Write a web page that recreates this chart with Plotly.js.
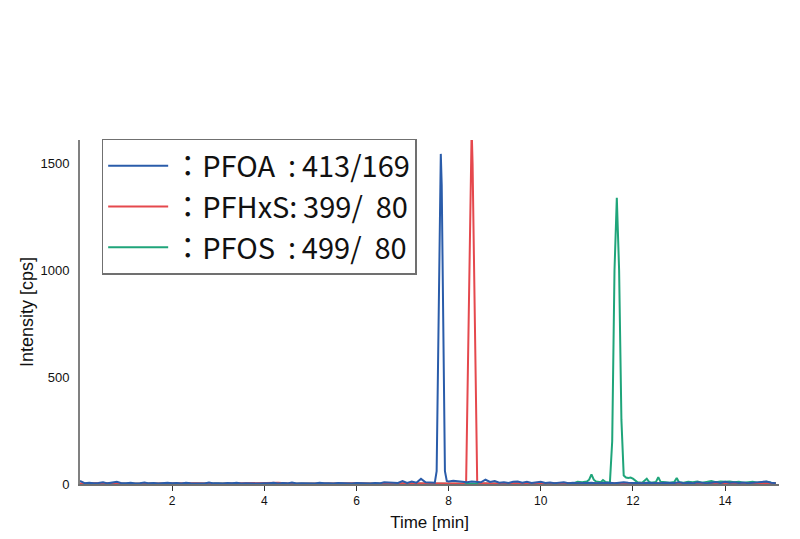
<!DOCTYPE html>
<html>
<head>
<meta charset="utf-8">
<script src="https://cdn.plot.ly/plotly-3.0.1.min.js"></script>
<style>html,body{margin:0;padding:0;background:#fff;}#chart{width:800px;height:539px;}</style>
</head>
<body>
<div id="chart"></div>
<script>
// ---- data ----
var seriesNames = ["\uff1aPFOA\u00a0\u00a0:\u2009413/169", "\uff1aPFHxS:\u2009399/\u00a0\u00a080", "\uff1aPFOS\u00a0\u00a0:\u2009499/\u00a0\u00a080"];
var seriesColors = ["#2a5caa", "#e5484d", "#1fa57a"];

var pfoaTime = [0,0.1,0.2,0.3,0.4,0.5,0.6,0.7,0.8,0.9,1.0,1.1,1.2,1.3,1.4,1.5,1.6,1.7,1.8,1.9,2.0,2.1,2.2,2.3,2.4,2.5,2.6,2.7,2.8,2.9,3.0,3.1,3.2,3.3,3.4,3.5,3.6,3.7,3.8,3.9,4.0,4.1,4.2,4.3,4.4,4.5,4.6,4.7,4.8,4.9,5.0,5.1,5.2,5.3,5.4,5.5,5.6,5.7,5.8,5.9,6.0,6.1,6.2,6.3,6.4,6.5,6.6,6.7,6.8,6.9,7.0,7.1,7.2,7.3,7.4,7.5,7.6,7.7,7.74,7.78,7.81,7.83,7.85,7.88,7.92,7.96,8.0,8.1,8.2,8.3,8.4,8.5,8.6,8.7,8.8,8.9,9.0,9.1,9.2,9.3,9.4,9.5,9.6,9.7,9.8,9.9,10.0,10.1,10.2,10.3,10.4,10.5,10.6,10.7,10.8,10.9,11.0,11.1,11.2,11.3,11.4,11.5,11.6,11.7,11.8,11.9,12.0,12.1,12.2,12.3,12.4,12.5,12.6,12.7,12.8,12.9,13.0,13.1,13.2,13.3,13.4,13.5,13.6,13.7,13.8,13.9,14.0,14.1,14.2,14.3,14.4,14.5,14.6,14.7,14.8,14.9,15.0,15.1];
var pfoaValue = [14,4,6,3,5,8,3,5,10,4,3,6,2,4,7,3,5,2,4,6,3,5,2,6,4,3,5,2,7,3,4,2,5,3,6,2,4,3,5,2,4,3,6,2,5,3,7,2,4,3,5,2,6,3,4,2,5,3,4,2,5,3,4,2,5,3,8,6,4,5,14,5,11,6,24,8,7,6,60,800,1450,1545,1400,700,60,14,12,15,13,10,8,12,10,8,20,10,14,6,8,5,10,12,6,10,5,8,10,5,7,4,6,8,4,6,3,5,4,6,3,5,4,6,3,5,8,6,4,5,3,6,4,5,3,6,4,5,8,4,6,3,8,5,4,6,9,5,10,6,8,5,7,4,6,5,10,12,6,4];

var pfhxsTime = [0,0.5,1.0,1.5,2.0,2.5,3.0,3.5,4.0,4.3,4.6,5.0,5.5,6.0,6.5,7.0,7.5,8.0,8.3,8.38,8.44,8.48,8.50,8.52,8.56,8.62,8.7,9.0,9.5,10.0,10.5,11.0,11.5,12.0,12.5,13.0,13.5,14.0,14.5,15.0,15.1];
var pfhxsValue = [2,5,1,3,2,4,1,3,2,6,1,3,2,4,1,3,2,1,2,10,800,1500,1660,1500,800,10,3,2,4,2,5,2,3,2,4,3,2,5,3,2,3];

var pfosTime = [0,1.0,2.0,3.0,4.0,5.0,6.0,7.0,8.0,9.0,10.0,10.7,10.8,10.9,11.0,11.05,11.1,11.15,11.2,11.3,11.35,11.4,11.5,11.55,11.6,11.65,11.7,11.75,11.8,11.85,11.9,11.95,12.0,12.05,12.1,12.2,12.3,12.35,12.4,12.5,12.55,12.6,12.7,12.8,12.9,12.95,13.0,13.1,13.2,13.3,13.4,13.5,13.6,13.7,13.8,13.9,14.0,14.1,14.2,14.3,14.4,14.5,14.6,14.7,14.8,14.9,15.0,15.1];
var pfosValue = [1,2,1,2,1,2,1,2,1,2,1,3,10,8,12,20,45,20,12,8,18,10,6,200,1000,1340,1000,300,40,30,28,30,25,15,8,6,25,10,6,10,32,10,8,6,10,28,8,6,10,8,12,6,10,14,8,12,10,12,8,10,6,8,10,6,8,10,6,5];

var xTickValues = [2,4,6,8,10,12,14];
var yTickValues = [0,500,1000,1500];

// ---- traces (drawn green, red, blue so blue sits on top) ----
var traces = [
  {x: pfosTime, y: pfosValue, name: seriesNames[2], legendrank: 3, type: "scatter", mode: "lines",
   line: {color: seriesColors[2], width: 2}},
  {x: pfhxsTime, y: pfhxsValue, name: seriesNames[1], legendrank: 2, type: "scatter", mode: "lines",
   line: {color: seriesColors[1], width: 2}},
  {x: pfoaTime, y: pfoaValue, name: seriesNames[0], legendrank: 1, type: "scatter", mode: "lines",
   line: {color: seriesColors[0], width: 2}}
];

var layout = {
  width: 800, height: 539,
  margin: {l: 80, r: 21, t: 140, b: 55},
  paper_bgcolor: "#ffffff", plot_bgcolor: "#ffffff",
  showlegend: true,
  legend: {
    x: 0.031, y: 1.003, xanchor: "left", yanchor: "top",
    bordercolor: "#707070", borderwidth: 1.5, bgcolor: "#ffffff",
    font: {family: "Noto Sans CJK JP, Noto Sans, sans-serif", size: 29, color: "#111"},
    itemwidth: 60, tracegroupgap: 0
  },
  xaxis: {
    range: [0, 15.17], tickvals: xTickValues, ticktext: xTickValues.map(String),
    showgrid: false, zeroline: false, showline: true, linecolor: "#707070", linewidth: 1.5,
    ticks: "outside", ticklen: 5, tickcolor: "#333", tickwidth: 1,
    tickfont: {family: "Liberation Sans Narrow, Liberation Sans, Arial, sans-serif", size: 12, color: "#111"},
    title: {text: "Time [min]", font: {family: "Liberation Sans Narrow, Liberation Sans, Arial, sans-serif", size: 17, color: "#111"}, standoff: 9}
  },
  yaxis: {
    range: [0, 1610], tickvals: yTickValues, ticktext: yTickValues.map(String),
    showgrid: false, zeroline: false, showline: true, linecolor: "#808080", linewidth: 2,
    ticks: "", ticklabelstandoff: 6,
    tickfont: {family: "Liberation Sans Narrow, Liberation Sans, Arial, sans-serif", size: 13, color: "#111"},
    title: {text: "Intensity [cps]", font: {family: "Liberation Sans Narrow, Liberation Sans, Arial, sans-serif", size: 18, color: "#111"}, standoff: 2}
  }
};

Plotly.newPlot("chart", traces, layout, {displayModeBar: false, staticPlot: true});
</script>
</body>
</html>
